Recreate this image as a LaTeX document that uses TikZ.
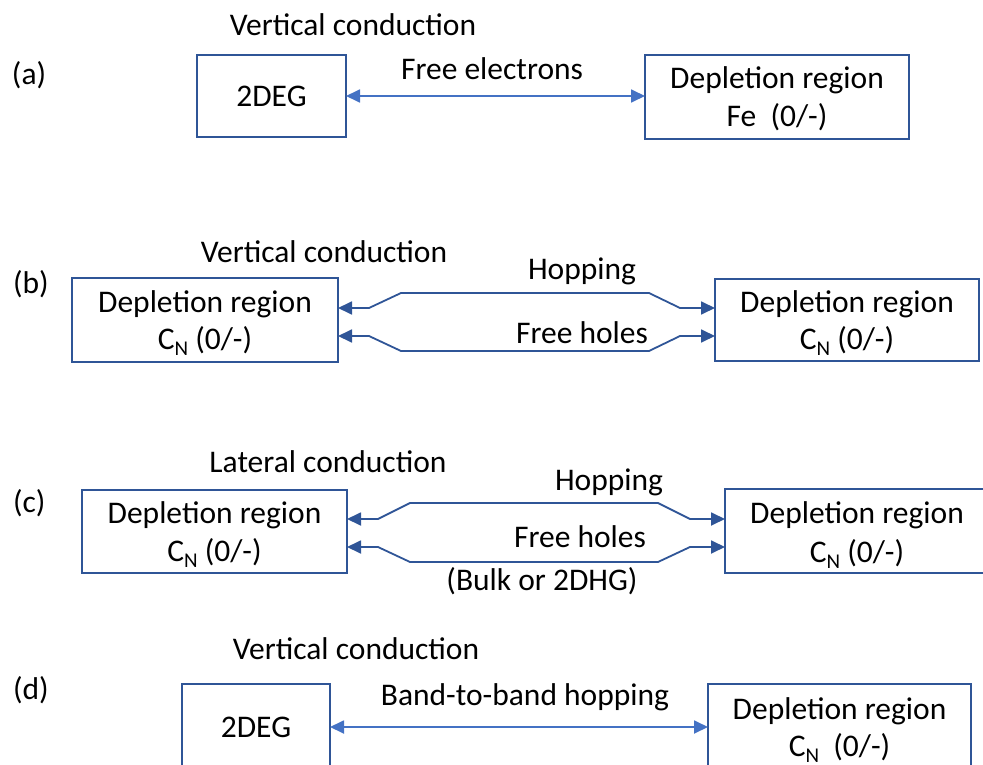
\documentclass[tikz,border=0pt]{standalone}
\usepackage{fontspec}
\setmainfont{Carlito}
\usetikzlibrary{arrows.meta}
\definecolor{boxblue}{HTML}{2F5597}
\definecolor{lightblue}{HTML}{4472C4}
\newcommand\mysubN{\raisebox{-0.22em}{\fontsize{21}{21}\selectfont N}}
\begin{document}
\begin{tikzpicture}[x=1pt,y=-1pt,
  every node/.style={font=\fontsize{31.5}{37}\selectfont, inner sep=0pt, outer sep=0pt},
  box/.style={draw=boxblue, line width=1.8pt},
  txt/.style={anchor=base},
  tip/.tip={Triangle[length=14pt,width=13pt]},
  larr/.style={draw=lightblue, line width=1.8pt, tip-tip},
  darr/.style={draw=boxblue, line width=1.8pt, line join=round, tip-tip}]
\useasboundingbox (0,0) rectangle (983,765);
\clip (0,0) rectangle (983,765);

% ---------------- (a)
\node[txt] (at) at (353,36) {Vertical conduction};
\node[anchor=base west] (al) at (12,85) {(a)};
\node[box, minimum width=149pt, minimum height=82pt] (a1) at (271.5,96) {};
\node[box, minimum width=264pt, minimum height=84pt] (a2) at (777,97) {};
\node[txt] (a1t) at (271.5,107) {2DEG};
\node[txt] (a2t) at (777,89) {Depletion region};
\node[txt] (a2u) at (777,127) {Fe~~(0/-)};
\node[txt] (alab) at (492,80) {Free electrons};
\draw[larr] (a1.east) -- (a1.east -| a2.west);

% ---------------- (b)
\node[txt] (bt) at (324,262) {Vertical conduction};
\node[anchor=base west] (bl) at (13,293) {(b)};
\node[box, minimum width=266pt, minimum height=84pt] (b1) at (205,320) {};
\node[box, minimum width=264pt, minimum height=82pt] (b2) at (847,320) {};
\node[txt] (b1t) at (205,312) {Depletion region};
\node[txt] (b1u) at (205,349) {C\mysubN\ (0/-)};
\node[txt] (b2t) at (847,312) {Depletion region};
\node[txt] (b2u) at (847,349) {C\mysubN\ (0/-)};
\node[txt] (bh) at (582,279) {Hopping};
\node[txt] (bf) at (582,343) {Free holes};
\draw[darr] ([yshift=12pt]b1.east) -- (369,308) -- (401,293) -- (649,293) -- (680,308) -- ([yshift=12pt]b2.west);
\draw[darr] ([yshift=-16pt]b1.east) -- (369,336) -- (401,351) -- (649,351) -- (680,336) -- ([yshift=-16pt]b2.west);

% ---------------- (c)
\node[txt] (ct) at (328,472) {Lateral conduction};
\node[anchor=base west] (cl) at (13,512) {(c)};
\node[box, minimum width=265pt, minimum height=83pt] (c1) at (214.5,531.5) {};
\node[box, minimum width=265pt, minimum height=84pt] (c2) at (857.5,531) {};
\node[txt] (c1t) at (214.5,523) {Depletion region};
\node[txt] (c1u) at (214.5,561) {C\mysubN\ (0/-)};
\node[txt] (c2t) at (857,523) {Depletion region};
\node[txt] (c2u) at (857,562) {C\mysubN\ (0/-)};
\node[txt] (ch) at (609,490) {Hopping};
\node[txt] (cf) at (580,547) {Free holes};
\node[txt] (cb) at (542,590) {(Bulk or 2DHG)};
\draw[darr] ([yshift=12.5pt]c1.east) -- (378,519) -- (410,503) -- (658,503) -- (690,519) -- (c2.west |- 0,519);
\draw[darr] ([yshift=-15.5pt]c1.east) -- (378,547) -- (410,562) -- (658,562) -- (690,547) -- (c2.west |- 0,547);

% ---------------- (d)
\node[txt] (dt) at (356,659) {Vertical conduction};
\node[anchor=base west] (dl) at (13,699) {(d)};
\node[box, minimum width=148pt, minimum height=86pt] (d1) at (256,727) {};
\node[box, minimum width=263pt, minimum height=86pt] (d2) at (839.5,727) {};
\node[txt] (d1t) at (256,737) {2DEG};
\node[txt] (d2t) at (839.5,719) {Depletion region};
\node[txt] (d2u) at (839.5,756) {C\mysubN~~(0/-)};
\node[txt] (dlab) at (525,705) {Band-to-band hopping};
\draw[larr] (d1.east) -- (d2.west);
\end{tikzpicture}
\end{document}
